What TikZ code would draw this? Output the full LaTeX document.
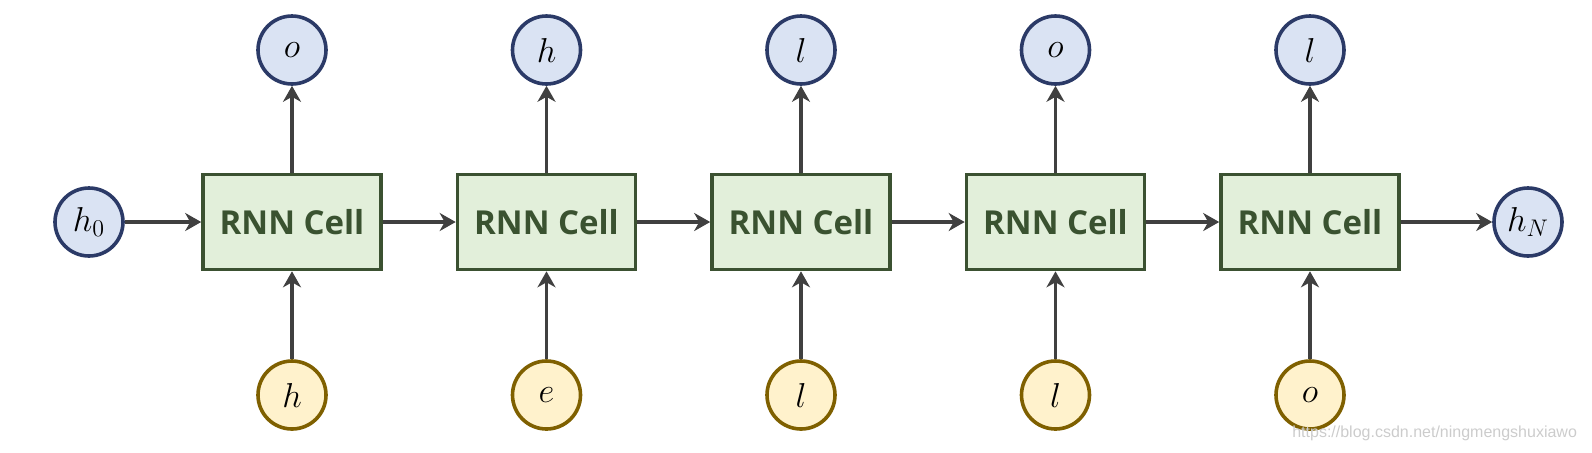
\documentclass[tikz,border=0pt]{standalone}
\usepackage{fontspec}
\usepackage{tikz}
\usetikzlibrary{arrows.meta, positioning}

\newfontfamily\cellfont{Open Sans}
\newfontfamily\markfont{Liberation Sans}

\definecolor{cellfill}{HTML}{E2EFDA}
\definecolor{cellline}{HTML}{3B5131}
\definecolor{celltext}{HTML}{3A5230}
\definecolor{statefill}{HTML}{DAE3F3}
\definecolor{stateline}{HTML}{2B3A67}
\definecolor{charfill}{HTML}{FFF2CC}
\definecolor{charline}{HTML}{7F6000}
\definecolor{wire}{HTML}{404040}

\tikzset{
	cell/.style={draw=cellline, fill=cellfill, rectangle, line width=1.8pt,
		minimum width=89pt, minimum height=47.5pt, text=celltext,
		font=\cellfont\bfseries\fontsize{16.5}{19}\selectfont},
	state/.style={draw=stateline, fill=statefill, circle, line width=1.8pt,
		minimum size=34pt, inner sep=0pt, font=\fontsize{18}{21}\selectfont},
	char/.style={draw=charline, fill=charfill, circle, line width=1.8pt,
		minimum size=34pt, inner sep=0pt, font=\fontsize{18}{21}\selectfont},
	wire/.style={draw=wire, line width=1.6pt,
		-{Stealth[length=8pt, width=9pt, inset=2.5pt]}}
}

\begin{document}
\begin{tikzpicture}[x=0.5pt, y=-0.5pt]
	\def \step {254.5}
	\def \top {50}
	\def \mid {222}
	\def \bot {395}

	\useasboundingbox (0,0) rectangle (1592,452);

	% hidden states at the ends
	\node[state] (start)  at (89,\mid)   {$h_0$};
	\node[state] (finish) at (1528,\mid) {$h_N$};

	% cells
	\node[cell] (first)  at ({292 + \step * 0},\mid) {RNN Cell};
	\node[cell] (second) at ({292 + \step * 1},\mid) {RNN Cell};
	\node[cell] (third)  at ({292 + \step * 2},\mid) {RNN Cell};
	\node[cell] (fourth) at ({292 + \step * 3},\mid) {RNN Cell};
	\node[cell] (fifth)  at ({292 + \step * 4},\mid) {RNN Cell};

	% outputs
	\node[state] (firstout)  at ({292 + \step * 0},\top) {$o$};
	\node[state] (secondout) at ({292 + \step * 1},\top) {$h$};
	\node[state] (thirdout)  at ({292 + \step * 2},\top) {$l$};
	\node[state] (fourthout) at ({292 + \step * 3},\top) {$o$};
	\node[state] (fifthout)  at ({292 + \step * 4},\top) {$l$};

	% inputs
	\node[char] (firstin)  at ({292 + \step * 0},\bot) {$h$};
	\node[char] (secondin) at ({292 + \step * 1},\bot) {$e$};
	\node[char] (thirdin)  at ({292 + \step * 2},\bot) {$l$};
	\node[char] (fourthin) at ({292 + \step * 3},\bot) {$l$};
	\node[char] (fifthin)  at ({292 + \step * 4},\bot) {$o$};

	\draw[wire] (start) -- (first);
	\draw[wire] (first) -- (second);
	\draw[wire] (second) -- (third);
	\draw[wire] (third) -- (fourth);
	\draw[wire] (fourth) -- (fifth);
	\draw[wire] (fifth) -- (finish);

	\draw[wire] (first) -- (firstout);
	\draw[wire] (second) -- (secondout);
	\draw[wire] (third) -- (thirdout);
	\draw[wire] (fourth) -- (fourthout);
	\draw[wire] (fifth) -- (fifthout);

	\draw[wire] (firstin) -- (first);
	\draw[wire] (secondin) -- (second);
	\draw[wire] (thirdin) -- (third);
	\draw[wire] (fourthin) -- (fourth);
	\draw[wire] (fifthin) -- (fifth);

	\node[anchor=east, text=black!20, font=\markfont\fontsize{8}{9}\selectfont]
		(mark) at (1584,433) {https://blog.csdn.net/ningmengshuxiawo};
\end{tikzpicture}
\end{document}
